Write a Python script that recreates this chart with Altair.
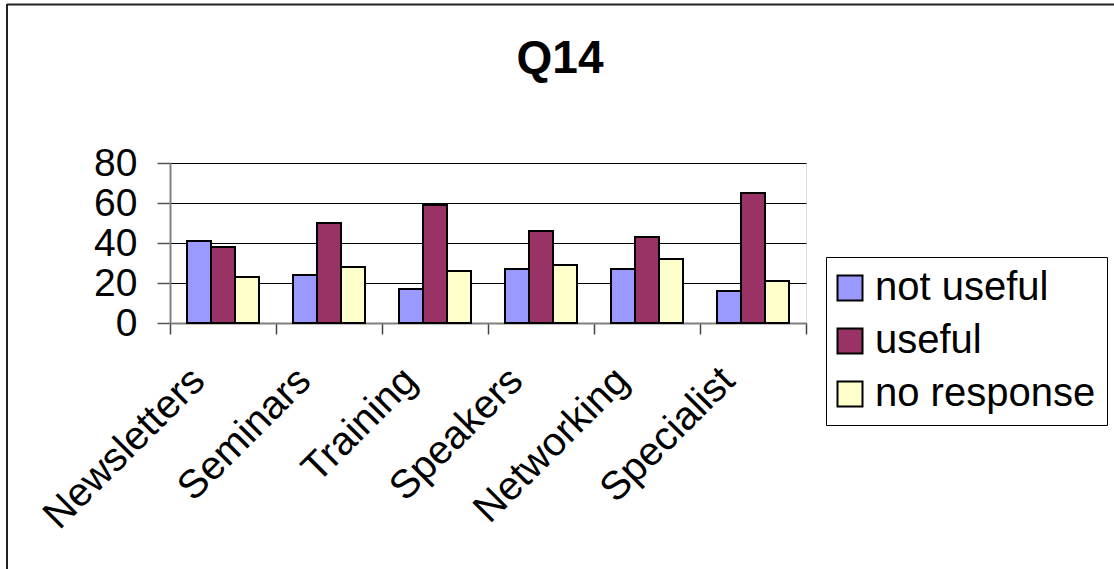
import altair as alt
import pandas as pd

# Survey responses for question 14, counts per activity
categories = ["Newsletters", "Seminars", "Training", "Speakers", "Networking", "Specialist"]
series = ["not useful", "useful", "no response"]
not_useful = [41, 24, 17, 27, 27, 16]
useful = [38, 50, 59, 46, 43, 65]
no_response = [23, 28, 26, 29, 32, 21]
y_ticks = [0, 20, 40, 60, 80]
colors = ["#9999FF", "#993366", "#FFFFCC"]
chart_title = "Q14"

rows = []
for s, vals in zip(series, [not_useful, useful, no_response]):
    for c, v in zip(categories, vals):
        rows.append({"category": c, "series": s, "value": v})
df = pd.DataFrame(rows)

FONT = "Liberation Sans"
W, H = 636, 160
LEFT, TOP = 170, 163

bars = alt.Chart(df).mark_bar(stroke="black", strokeWidth=2).encode(
    x=alt.X(
        "category:N",
        sort=categories,
        title=None,
        scale=alt.Scale(paddingInner=0, paddingOuter=0),
        axis=alt.Axis(
            labelAngle=-45,
            labelAlign="right",
            labelBaseline="middle",
            labelFont=FONT,
            labelFontSize=40,
            labelColor="black",
            labelPadding=40,
            labelOffset=-25,
            labelLimit=400,
            tickBand="extent",
            tickSize=11,
            tickColor="#444444",
            tickWidth=1.5,
            domainColor="#808080",
            domainWidth=2,
        ),
    ),
    # each cluster of three bars sits centred in its category slot
    xOffset=alt.XOffset("series:N", sort=series,
                        scale=alt.Scale(paddingInner=0, paddingOuter=0.708)),
    y=alt.Y(
        "value:Q",
        title=None,
        scale=alt.Scale(domain=[0, 80], nice=False),
        axis=alt.Axis(
            values=y_ticks,
            labelFont=FONT,
            labelFontSize=39,
            labelColor="black",
            labelPadding=20,
            labelBaseline="middle",
            tickSize=13,
            tickColor="#555555",
            tickWidth=1.5,
            domainColor="#808080",
            domainWidth=2,
            grid=True,
            gridColor="black",
            gridWidth=1,
        ),
    ),
    color=alt.Color(
        "series:N",
        sort=series,
        scale=alt.Scale(domain=series, range=colors),
        legend=alt.Legend(
            title=None,
            orient="none",
            legendX=656,
            legendY=94,
            strokeColor="black",
            fillColor="white",
            padding=11,
            symbolType="square",
            symbolSize=625,
            symbolStrokeColor="black",
            symbolStrokeWidth=2,
            symbolOpacity=1,
            symbolOffset=-7,
            labelFont=FONT,
            labelFontSize=40,
            labelColor="black",
            labelOffset=5,
            labelLimit=400,
            rowPadding=13,
        ),
    ),
)

# Chart heading, centred over the whole chart area
title_df = pd.DataFrame({"t": [chart_title]})
title = alt.Chart(title_df).mark_text(
    font=FONT, fontSize=46, fontWeight="bold", color="black",
    align="center", baseline="alphabetic",
).encode(text="t:N", x=alt.value(560 - LEFT), y=alt.value(73 - TOP))

# Outer chart frame (left and top edges)
frame_df = pd.DataFrame({"k": [0]})
frame_left = alt.Chart(frame_df).mark_rule(color="#222222", strokeWidth=2).encode(
    x=alt.value(7 - LEFT), y=alt.value(4 - TOP), y2=alt.value(600 - TOP)
)
frame_top = alt.Chart(frame_df).mark_rule(color="#222222", strokeWidth=2).encode(
    x=alt.value(7 - LEFT), x2=alt.value(1200 - LEFT), y=alt.value(4.5 - TOP)
)

chart = alt.layer(bars, title, frame_left, frame_top).properties(
    width=W,
    height=H,
    autosize=alt.AutoSizeParams(type="none"),
    padding={"left": LEFT, "top": TOP, "right": 1114 - LEFT - W, "bottom": 569 - TOP - H},
).configure_view(
    fill="#C0C0C0", stroke="#808080", strokeWidth=2
).configure(background="white")

chart.save("out.html", embed_options={"renderer": "svg", "actions": False})
